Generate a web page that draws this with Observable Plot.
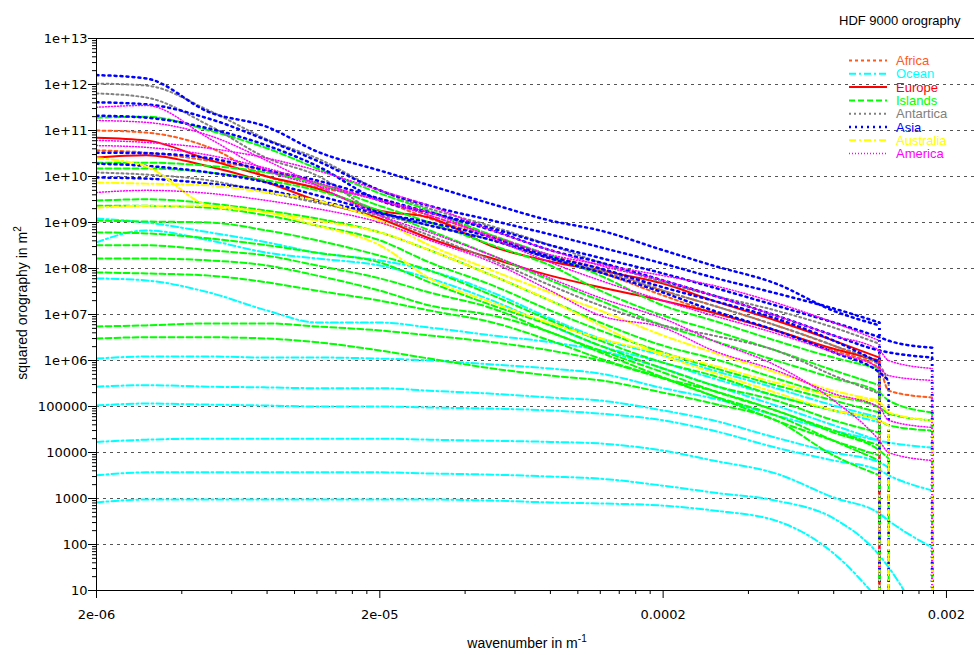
<!DOCTYPE html>
<html><head><meta charset="utf-8">
<script src="https://cdn.jsdelivr.net/npm/d3@7"></script>
<script src="https://cdn.jsdelivr.net/npm/@observablehq/plot@0.6"></script>
<style>
body{margin:0;background:#fff;overflow:hidden}
#chart{width:974px;height:655px}
</style></head><body><div id="chart"></div>
<script>
// x positions (wavenumber, 1/m) at which each spectrum was read
const wavenumber = [2e-6, 3e-6, 5e-6, 8e-6, 1.2e-5, 2e-5, 3e-5, 5e-5, 8e-5, 1.2e-4, 2e-4, 3e-4, 5e-4, 8e-4, 1.16e-3, 1.25e-3, 1.78e-3];

const africa = [
  [1.0e11, 9.0e10, 4.3e10, 1.0e10, 5.8e9, 3.3e9, 1.42e9, 5.2e8, 1.9e8, 1.0e8, 3.3e7, 1.57e7, 5.8e6, 2.1e6, 8.6e5],
  [3.7e10, 3.3e10, 2.2e10, 1.35e10, 7.0e9, 3.0e9, 1.22e9, 4.7e8, 1.65e8, 8.2e7, 2.6e7, 1.1e7, 4.5e6, 1.65e6, 6.7e5, 2.2e5, 1.57e5]
];
const ocean = [
  [1.22e9, 1.0e9, 6.1e8, 3.7e8, 2.2e8, 1.5e8, 9.0e7, 3.0e7, 8.2e6, 3.0e6, 1.28e6, 6.1e5, 2.5e5, 1.05e5, 5.8e4],
  [3.7e8, 6.7e8, 4.1e8, 2.2e8, 1.65e8, 1.16e8, 6.1e7, 2.0e7, 5.8e6, 2.1e6, 9.0e5, 4.1e5, 1.7e5, 8.2e4, 4.5e4],
  [6.1e7, 5.5e7, 3.0e7, 1.22e7, 6.7e6, 6.7e6, 5.2e6, 3.5e6, 2.5e6, 1.65e6, 6.7e5, 2.9e5, 1.05e5, 3.9e4, 1.8e4],
  [1.1e6, 1.22e6, 1.22e6, 1.16e6, 1.16e6, 1.1e6, 1.0e6, 8.2e5, 6.7e5, 5.2e5, 2.5e5, 1.5e5, 6.4e4, 3.0e4, 1.8e4, 1.65e4, 1.28e4],
  [2.7e5, 2.9e5, 2.7e5, 2.6e5, 2.5e5, 2.5e5, 2.2e5, 1.9e5, 1.57e5, 1.35e5, 8.2e4, 5.0e4, 2.1e4, 1.0e4, 6.1e3, 4.7e3],
  [1.05e5, 1.16e5, 1.1e5, 1.05e5, 1.0e5, 1.0e5, 9.5e4, 9.0e4, 8.2e4, 7.0e4, 5.0e4, 3.0e4, 1.28e4, 6.7e3, 4.1e3, 3.2e3, 1.5e3],
  [1.7e4, 1.9e4, 2.0e4, 2.0e4, 2.0e4, 2.0e4, 1.9e4, 1.8e4, 1.7e4, 1.57e4, 1.1e4, 6.7e3, 3.5e3, 1.05e3, 4.7e2, 3.3e2, 86],
  [3.2e3, 3.7e3, 3.7e3, 3.7e3, 3.7e3, 3.7e3, 3.5e3, 3.3e3, 3.0e3, 2.7e3, 1.9e3, 1.35e3, 9.0e2, 3.7e2, 58, 32, 0.8],
  [8.2e2, 9.5e2, 9.5e2, 9.5e2, 9.5e2, 9.5e2, 9.5e2, 9.0e2, 8.2e2, 7.8e2, 7.0e2, 5.5e2, 3.3e2, 64, 6]
];
const europe = [
  [7.0e10, 6.1e10, 2.3e10, 1.0e10, 5.5e9, 1.8e9, 1.28e9, 3.0e8, 1.42e8, 9.0e7, 4.7e7, 2.0e7, 7.4e6, 2.7e6, 1.16e6],
  [2.6e10, 2.9e10, 1.65e10, 7.4e9, 3.0e9, 1.22e9, 4.5e8, 1.65e8, 7.0e7, 3.9e7, 2.0e7, 1.1e7, 4.5e6, 1.8e6, 1.0e6]
];
const islands = [
  [1.9e11, 2.0e11, 1.0e11, 4.1e10, 1.5e10, 4.3e9, 1.8e9, 5.2e8, 1.9e8, 7.0e7, 1.57e7, 7.4e6, 2.7e6, 1.16e6, 6.7e5],
  [2.0e10, 2.0e10, 1.7e10, 1.22e10, 7.0e9, 2.3e9, 1.0e9, 3.2e8, 1.16e8, 3.3e7, 9.5e6, 4.5e6, 1.65e6, 6.1e5, 2.9e5],
  [1.5e10, 1.5e10, 1.22e10, 8.2e9, 5.0e9, 1.8e9, 6.7e8, 1.9e8, 5.5e7, 2.0e7, 5.8e6, 2.7e6, 1.0e6, 4.1e5, 2.0e5, 1.35e5, 7.4e4],
  [3.0e9, 3.2e9, 2.6e9, 1.8e9, 1.22e9, 6.1e8, 2.5e8, 7.0e7, 2.0e7, 6.7e6, 2.1e6, 1.1e6, 4.1e5, 1.7e5, 9.5e4, 7.0e4, 5.0e4],
  [2.3e9, 2.3e9, 2.1e9, 1.42e9, 8.6e8, 4.1e8, 1.35e8, 4.3e7, 1.22e7, 4.5e6, 1.5e6, 7.0e5, 2.9e5, 1.35e5, 7.4e4],
  [1.1e9, 1.05e9, 1.0e9, 6.7e8, 4.1e8, 1.9e8, 9.0e7, 2.6e7, 7.4e6, 2.7e6, 9.0e5, 4.7e5, 1.7e5, 8.2e4, 5.0e4, 3.9e4, 3.0e4],
  [6.1e8, 5.8e8, 4.5e8, 3.2e8, 2.2e8, 1.35e8, 5.0e7, 1.57e7, 5.8e6, 2.1e6, 6.7e5, 2.9e5, 1.35e5, 5.0e4, 2.7e4],
  [3.2e8, 3.2e8, 2.5e8, 1.9e8, 1.16e8, 6.1e7, 3.0e7, 1.35e7, 4.1e6, 1.65e6, 5.5e5, 2.2e5, 8.2e4, 3.0e4, 1.42e4],
  [1.65e8, 1.65e8, 1.5e8, 1.16e8, 7.0e7, 3.3e7, 1.57e7, 9.5e6, 4.1e6, 1.5e6, 4.3e5, 1.7e5, 5.0e4, 1.8e4, 8.6e3],
  [8.2e7, 7.8e7, 7.0e7, 5.0e7, 3.3e7, 2.0e7, 1.22e7, 6.7e6, 2.7e6, 1.1e6, 4.1e5, 1.7e5, 6.4e4, 1.8e4, 6.7e3],
  [5.5e6, 5.8e6, 6.4e6, 6.4e6, 5.5e6, 4.5e6, 3.5e6, 2.5e6, 1.65e6, 1.0e6, 4.1e5, 2.2e5, 8.2e4, 2.7e4, 1.1e4, 7.4e3],
  [3.0e6, 3.2e6, 3.2e6, 3.0e6, 2.5e6, 1.65e6, 1.1e6, 6.7e5, 4.7e5, 3.7e5, 2.0e5, 1.16e5, 5.0e4, 8.6e3, 3.2e3]
];
const antartica = [
  [1.05e12, 9.5e11, 2.7e11, 6.4e10, 2.5e10, 5.0e9, 2.0e9, 8.2e8, 3.2e8, 1.35e8, 5.0e7, 2.6e7, 1.22e7, 5.2e6, 2.3e6],
  [6.4e11, 5.2e11, 1.28e11, 2.5e10, 1.05e10, 1.42e9, 5.2e8, 1.5e8, 4.3e7, 1.57e7, 5.8e6, 3.5e6, 1.65e6, 4.7e5, 1.9e5],
  [1.22e10, 1.1e10, 8.2e9, 4.5e9, 2.7e9, 1.42e9, 8.6e8, 4.1e8, 1.65e8, 9.0e7, 3.3e7, 1.57e7, 5.8e6, 2.1e6, 7.8e5, 3.3e5]
];
const asia = [
  [1.6e12, 1.35e12, 2.5e11, 1.2e11, 3.5e10, 1.35e10, 6.4e9, 2.5e9, 1.1e9, 6.7e8, 2.5e8, 1.16e8, 4.7e7, 1.2e7, 5.8e6],
  [4.1e11, 3.7e11, 1.8e11, 6.1e10, 2.2e10, 5.0e9, 2.3e9, 1.1e9, 5.5e8, 2.9e8, 1.28e8, 6.4e7, 2.9e7, 1.35e7, 6.7e6],
  [2.1e11, 1.9e11, 1.1e11, 4.7e10, 1.7e10, 3.0e9, 1.65e9, 7.4e8, 3.2e8, 1.7e8, 7.8e7, 3.9e7, 1.57e7, 6.7e6, 3.2e6, 2.7e6, 1.9e6],
  [3.3e10, 3.2e10, 2.5e10, 1.35e10, 8.2e9, 3.3e9, 1.65e9, 6.7e8, 2.5e8, 1.35e8, 5.5e7, 2.6e7, 9.5e6, 3.5e6, 1.65e6, 1.5e6, 1.16e6],
  [9.5e9, 9.0e9, 7.0e9, 5.0e9, 3.0e9, 1.57e9, 1.0e9, 4.7e8, 1.8e8, 1.0e8, 3.9e7, 2.0e7, 8.2e6, 2.7e6, 9.0e5],
  [1.9e10, 1.7e10, 1.22e10, 7.4e9, 3.9e9, 1.65e9, 8.6e8, 4.1e8, 1.65e8, 8.2e7, 3.0e7, 1.22e7, 4.5e6, 1.5e6, 5.5e5, 3.7e5]
];
const australia = [
  [2.5e10, 1.65e10, 2.3e9, 1.65e9, 8.6e8, 3.2e8, 6.1e7, 1.8e7, 6.4e6, 3.0e6, 1.42e6, 7.8e5, 3.3e5, 1.7e5, 1.22e5, 7.4e4, 5.0e4],
  [7.4e9, 7.0e9, 6.4e9, 4.5e9, 3.0e9, 1.1e9, 3.2e8, 9.0e7, 3.0e7, 1.22e7, 3.5e6, 1.5e6, 5.5e5, 2.2e5, 1.35e5],
  [2.1e9, 2.3e9, 2.3e9, 1.65e9, 1.1e9, 6.1e8, 2.5e8, 7.0e7, 2.0e7, 5.8e6, 1.28e6, 5.5e5, 2.0e5, 8.2e4, 5.0e4, 3.9e4]
];
const america = [
  [3.2e11, 3.5e11, 6.7e10, 1.35e10, 6.4e9, 3.0e9, 1.42e9, 5.0e8, 2.0e8, 1.22e8, 7.0e7, 4.3e7, 1.8e7, 6.7e6, 2.7e6],
  [6.1e10, 5.5e10, 4.1e10, 2.5e10, 1.35e10, 5.0e9, 2.3e9, 6.7e8, 2.5e8, 1.16e8, 5.5e7, 2.6e7, 9.5e6, 3.5e6, 1.65e6, 1.0e6, 6.7e5],
  [4.7e10, 4.3e10, 2.9e10, 1.5e10, 7.4e9, 3.0e9, 1.65e9, 4.5e8, 1.35e8, 5.5e7, 2.0e7, 9.5e6, 3.9e6, 1.5e6, 6.7e5, 4.7e5, 3.7e5],
  [4.5e9, 5.0e9, 4.3e9, 3.0e9, 2.0e9, 1.0e9, 4.1e8, 1.35e8, 3.3e7, 9.5e6, 5.2e6, 1.65e6, 6.1e5, 1.9e5, 9.5e4, 5.0e4, 3.5e4],
  [1.65e11, 1.5e11, 7.8e10, 2.2e10, 6.4e9, 1.42e9, 6.1e8, 1.9e8, 6.1e7, 2.3e7, 8.2e6, 2.7e6, 7.8e5, 1.35e5, 1.8e4, 1.0e4, 6.7e3]
];

const groupNames = ["Africa", "Ocean", "Europe", "Islands", "Antartica", "Asia", "Australia", "America"];
const groupData = [africa, ocean, europe, islands, antartica, asia, australia, america];
const groupColors = ["#ff5a1a", "#00ffff", "#ff0000", "#00ff00", "#808080", "#0000ff", "#ffff00", "#ff00ff"];
const groupDash = ["3,3", "7,3,2,3", null, "6,3", "2,3", "2,4", "7,3,2,3", "1,2"];
const groupWidth = [2, 2, 2, 2, 2, 2.5, 2, 1.5];

const yTicks = [1e13, 1e12, 1e11, 1e10, 1e9, 1e8, 1e7, 1e6, 1e5, 1e4, 1e3, 1e2, 1e1];
const yTickLabels = ["1e+13", "1e+12", "1e+11", "1e+10", "1e+09", "1e+08", "1e+07", "1e+06", "100000", "10000", "1000", "100", "10"];
const xTicks = [2e-6, 2e-5, 2e-4, 2e-3];
const xTickLabels = ["2e-06", "2e-05", "0.0002", "0.002"];

// minor tick positions
const xMinor = [];
for (const b of [2e-6, 2e-5, 2e-4]) for (let k = 2; k <= 9; k++) xMinor.push(b * k);
const yMinor = [];
for (let e = 1; e < 13; e++) for (let k = 2; k <= 9; k++) yMinor.push(k * Math.pow(10, e));

// each spectrum ends with zero power: drawn as a vertical drop below the axis
const below = 1;
function rows(group) {
  const out = [];
  group.forEach((vals, s) => vals.forEach((v, i) => out.push({x: wavenumber[i], y: v, id: s})));
  return out;
}
function drops(group) {
  return group.map((vals, s) => ({x: wavenumber[vals.length - 1], y1: below, y2: vals[vals.length - 1], id: s}));
}

const yLab = new Map(yTicks.map((t, i) => [t, yTickLabels[i]]));
const xLab = new Map(xTicks.map((t, i) => [t, xTickLabels[i]]));

const lineMarks = groupData.flatMap((g, gi) => [
  Plot.line(rows(g), {
    x: "x", y: "y", z: "id", stroke: groupColors[gi], strokeWidth: groupWidth[gi],
    strokeDasharray: groupDash[gi] || undefined, clip: true, curve: "monotone-x"
  }),
  Plot.ruleX(drops(g), {
    x: "x", y1: "y1", y2: "y2", stroke: groupColors[gi], strokeWidth: groupWidth[gi],
    strokeDasharray: groupDash[gi] || undefined, clip: true
  })
]);

const chart = Plot.plot({
  width: 974, height: 655,
  marginLeft: 96, marginRight: 0, marginTop: 38, marginBottom: 65,
  style: {fontFamily: "DejaVu Sans", fontSize: "13px", background: "#fff", color: "#000"},
  x: {type: "log", domain: [2e-6, 2.512e-3]},
  y: {type: "log", domain: [10, 1e13]},
  marks: [
    Plot.ruleY(yTicks.slice(1, -1), {stroke: "#555", strokeDasharray: "3,4", strokeWidth: 1}),
    ...lineMarks,
    Plot.axisY({ticks: yTicks, tickSize: 8, tickPadding: 1, tickFormat: d => yLab.get(d), label: null, stroke: "#000"}),
    Plot.axisY({ticks: yMinor, tickSize: 4, tickFormat: () => "", label: null}),
    Plot.axisX({ticks: xTicks, tickSize: 8, tickPadding: 11, tickFormat: d => xLab.get(d), label: null}),
    Plot.axisX({ticks: xMinor, tickSize: 4, tickFormat: () => "", label: null}),
    Plot.ruleY([10, 1e13], {stroke: "#000", strokeWidth: 1}),
    Plot.ruleX([2e-6], {stroke: "#000", strokeWidth: 1})
  ]
});
document.getElementById("chart").appendChild(chart);

const svg = d3.select(chart);
// title
svg.append("text").attr("x", 839).attr("y", 25).attr("text-anchor", "start")
  .attr("font-family", "Liberation Sans").attr("font-size", 13)
  .attr("fill", "#000").text("HDF 9000 orography");
// legend
groupNames.forEach((name, i) => {
  const y = 60.5 + i * 13.3;
  svg.append("line").attr("x1", 849).attr("x2", 887).attr("y1", y).attr("y2", y)
    .attr("stroke", groupColors[i]).attr("stroke-width", groupWidth[i])
    .attr("stroke-dasharray", groupDash[i] || null);
  svg.append("text").attr("x", 896).attr("y", y + 4.5).attr("text-anchor", "start")
    .attr("font-family", "Liberation Sans")
    .attr("font-size", 13).attr("fill", groupColors[i]).text(name);
});
// axis labels
const xl = svg.append("text").attr("x", 527).attr("y", 648).attr("text-anchor", "middle")
  .attr("font-family", "Liberation Sans").attr("font-size", 14).attr("fill", "#000");
xl.append("tspan").text("wavenumber in m");
xl.append("tspan").attr("dy", -6).attr("font-size", 10).text("-1");
const yl = svg.append("text").attr("transform", "translate(27,303) rotate(-90)").attr("text-anchor", "middle")
  .attr("font-family", "Liberation Sans").attr("font-size", 14).attr("fill", "#000");
yl.append("tspan").text("squared orography in m");
yl.append("tspan").attr("dy", -6).attr("font-size", 10).text("2");
</script></body></html>
